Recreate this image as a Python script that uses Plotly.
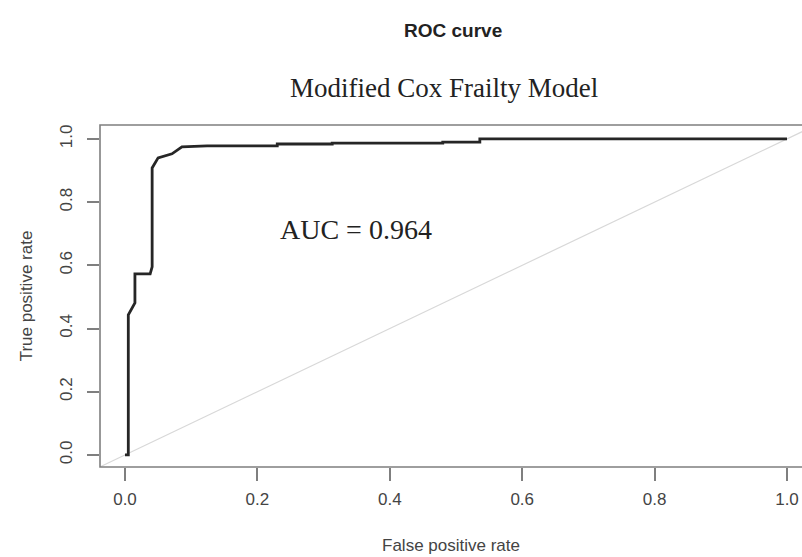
import plotly.graph_objects as go

# ROC curve points (false positive rate, true positive rate)
fpr = [0.0, 0.005, 0.005, 0.015, 0.015, 0.038, 0.041, 0.041, 0.050, 0.071, 0.086, 0.124,
       0.23, 0.23, 0.313, 0.313, 0.48, 0.48, 0.536, 0.536, 1.0]
tpr = [0.0, 0.0, 0.443, 0.481, 0.573, 0.573, 0.595, 0.908, 0.940, 0.953, 0.975, 0.978,
       0.978, 0.984, 0.984, 0.987, 0.987, 0.99, 0.99, 1.0, 1.0]

diag = [-0.1, 1.1]
tick_vals = [0.0, 0.2, 0.4, 0.6, 0.8, 1.0]
tick_text = ["0.0", "0.2", "0.4", "0.6", "0.8", "1.0"]
auc_label = "AUC = 0.964"

W, H = 802, 557
L, R, T, B = 100, 0, 125, 90
pw, ph = W - L - R, H - T - B
x0px = 125.0
ux = 662.0
xmin = -(x0px - L) / ux
xmax = xmin + pw / ux


def px_to_paper(xp, yp):
    return (xp - L) / pw, (H - B - yp) / ph


fig = go.Figure()
fig.add_trace(go.Scatter(x=diag, y=diag, mode="lines",
                         line=dict(color="#d8d8d8", width=1.2), hoverinfo="skip"))
fig.add_trace(go.Scatter(x=fpr, y=tpr, mode="lines",
                         line=dict(color="#262626", width=2.8)))

fig.add_annotation(x=0.349, y=0.712, xref="x", yref="y", text=auc_label, showarrow=False,
                   xanchor="center", yanchor="middle",
                   font=dict(family="Liberation Serif, Times New Roman, serif", size=28, color="#222222"))

px, py = px_to_paper(453, 31)
fig.add_annotation(x=px, y=py, xref="paper", yref="paper", text="<b>ROC curve</b>", showarrow=False,
                   xanchor="center", yanchor="middle",
                   font=dict(family="Liberation Sans, Arial, sans-serif", size=19, color="#222222"))
px, py = px_to_paper(444, 88)
fig.add_annotation(x=px, y=py, xref="paper", yref="paper",
                   text="Modified Cox Frailty Model", showarrow=False,
                   xanchor="center", yanchor="middle",
                   font=dict(family="Liberation Serif, Times New Roman, serif", size=27, color="#222222"))

# box around plot region (right side off-canvas, as in the cropped reference)
fig.add_shape(type="rect", xref="paper", yref="paper", x0=0, x1=1.03, y0=0, y1=1,
              line=dict(color="#7f7f7f", width=1.6))

axis_font = dict(family="Liberation Sans, Arial, sans-serif", size=17, color="#444444")

fig.update_layout(
    width=W, height=H,
    margin=dict(l=L, r=R, t=T, b=B),
    paper_bgcolor="white", plot_bgcolor="white",
    showlegend=False,
    xaxis=dict(range=[xmin, xmax], tickvals=tick_vals, ticktext=tick_text,
               ticks="outside", ticklen=13, tickcolor="#7f7f7f", tickwidth=1.6,
               showgrid=False, zeroline=False, showline=False,
               tickfont=axis_font, ticklabelstandoff=4,
               title=dict(text="False positive rate", font=axis_font, standoff=30)),
    yaxis=dict(range=[-0.0383, 1.0441], tickvals=tick_vals, ticktext=tick_text,
               ticks="outside", ticklen=12, tickcolor="#7f7f7f", tickwidth=1.6,
               showgrid=False, zeroline=False, showline=False, tickangle=-90,
               tickfont=axis_font, ticklabelstandoff=8,
               title=dict(text="True positive rate", font=axis_font, standoff=20)),
)

fig.write_html("out.html")
